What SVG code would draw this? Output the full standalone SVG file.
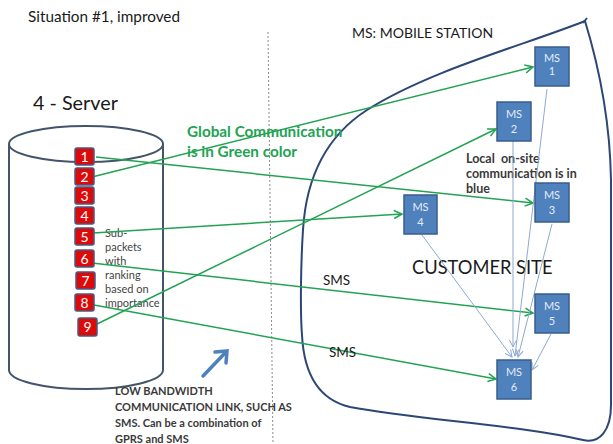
<svg xmlns="http://www.w3.org/2000/svg" width="613" height="444" viewBox="0 0 613 444">
<defs>
<style>
.t{font-family:Lato,"Liberation Sans",sans-serif;fill:#1a1a1a}
.g{font-family:Lato,"Liberation Sans",sans-serif;font-weight:bold;fill:#22a352;font-size:15.3px}
.b{font-family:Lato,"Liberation Sans",sans-serif;font-weight:bold;fill:#3a3a3a}
.sub{font-family:Lato,"Liberation Sans",sans-serif;fill:#444;font-size:11px}
.red rect{fill:#dd0a0a;stroke:#4a5a85;stroke-width:1.5}
.red text{font-family:Lato,"Liberation Sans",sans-serif;fill:#fff;font-size:14px;text-anchor:middle}
.ms rect{fill:#4f81bd;stroke:#385d8a;stroke-width:1.5}
.ms text{font-family:Lato,"Liberation Sans",sans-serif;fill:#e4ecf6;font-size:11px;text-anchor:middle}
.gl{stroke:#22a352;stroke-width:1.5;fill:none;marker-end:url(#ga)}
.bl{stroke:#8fa9cf;stroke-width:1;fill:none;marker-end:url(#ba)}
</style>
<marker id="ga" markerUnits="userSpaceOnUse" markerWidth="12" markerHeight="12" refX="9" refY="5" orient="auto"><path d="M1,1 L9,5 L1,9" fill="none" stroke="#22a352" stroke-width="1.5"/></marker>
<marker id="ba" markerUnits="userSpaceOnUse" markerWidth="10" markerHeight="10" refX="8" refY="4" orient="auto"><path d="M1,0.5 L8,4 L1,7.5" fill="none" stroke="#8fa9cf" stroke-width="1"/></marker>
</defs>
<rect width="613" height="444" fill="#fff"/>

<text class="t" x="28" y="22" font-size="15.3">Situation #1, improved</text>
<text class="t" x="33" y="110" font-size="19.8">4 - Server</text>

<!-- divider -->
<line x1="268" y1="32" x2="273" y2="444" stroke="#8a8a8a" stroke-width="1" stroke-dasharray="2,2"/>

<!-- server cylinder -->
<g id="server">
<ellipse cx="86" cy="144" rx="77" ry="18" fill="none" stroke="#44546a" stroke-width="2"/>
<path d="M9,144 L9,370 A77,19 0 0 0 163,370 L163,144" fill="none" stroke="#44546a" stroke-width="2"/>
</g>

<!-- customer site -->
<g id="customer-site">
<path d="M585,21 C525,45 430,70 367,110 C325,137 306,180 303,230 C301,260 300,310 302,335 C304,375 320,400 350,407 C420,420 520,425 583,440 C600,444 611,430 611,405 L611,180 C610,120 600,70 585,21 Z" fill="none" stroke="#2c4775" stroke-width="2"/>
<path d="M583,23 L587,18" stroke="#2c4775" stroke-width="2"/>
</g>

<text class="t" x="352" y="38" font-size="14">MS: MOBILE STATION</text>
<text class="t" x="412" y="274" font-size="18.3">CUSTOMER SITE</text>
<text class="g" x="187" y="137">Global Communication</text>
<text class="g" x="187" y="157">is in Green color</text>
<text class="b" font-size="12.5" xml:space="preserve"><tspan x="466" y="163">Local  on-site</tspan><tspan x="466" y="178">communication is in</tspan><tspan x="466" y="193">blue</tspan></text>
<text class="sub"><tspan x="105" y="237">Sub-</tspan><tspan x="105" y="251">packets</tspan><tspan x="105" y="265">with</tspan><tspan x="105" y="279">ranking</tspan><tspan x="105" y="293">based on</tspan><tspan x="105" y="307">importance</tspan></text>
<text class="b" font-size="11"><tspan x="115" y="395">LOW BANDWIDTH</tspan><tspan x="115" y="411">COMMUNICATION LINK, SUCH AS</tspan><tspan x="115" y="427">SMS. Can be a combination of</tspan><tspan x="115" y="443">GPRS and SMS</tspan></text>

<!-- low bandwidth arrow -->
<g id="lb-arrow" stroke="#4f81bd" stroke-width="3.5" fill="none" stroke-linecap="round">
<path d="M203,376 L226,352"/>
<path d="M215,352 L227,351 L226,363"/>
</g>

<!-- connectors -->
<g id="connectors">
<line class="gl" x1="96" y1="157" x2="533" y2="203"/>
<line class="gl" x1="88" y1="178" x2="533" y2="67"/>
<line class="gl" x1="93" y1="233" x2="402" y2="214"/>
<line class="gl" x1="83" y1="262" x2="533" y2="313"/>
<line class="gl" x1="97" y1="324" x2="496" y2="129"/>
<line class="gl" x1="94" y1="305" x2="496" y2="379"/>
<line class="bl" x1="547" y1="89" x2="515" y2="356"/>
<line class="bl" x1="513" y1="141" x2="513" y2="347"/>
<line class="bl" x1="552" y1="224" x2="518" y2="357"/>
<line class="bl" x1="422" y1="235" x2="512" y2="357"/>
<line class="bl" x1="551" y1="334" x2="532" y2="370"/>
</g>

<text class="t" x="323" y="285" font-size="13.5">SMS</text>
<text class="t" x="329" y="357" font-size="13.5">SMS</text>

<!-- packets -->
<g class="red">
<g id="p1"><rect x="75" y="148" width="19" height="17" rx="2"/><text x="84.5" y="161.5">1</text></g>
<g id="p2"><rect x="75" y="168" width="19" height="17" rx="2"/><text x="84.5" y="181.5">2</text></g>
<g id="p3"><rect x="75" y="187" width="19" height="17" rx="2"/><text x="84.5" y="200.5">3</text></g>
<g id="p4"><rect x="75" y="207" width="19" height="17" rx="2"/><text x="84.5" y="220.5">4</text></g>
<g id="p5"><rect x="75" y="228" width="19" height="17" rx="2"/><text x="84.5" y="241.5">5</text></g>
<g id="p6"><rect x="75" y="250" width="19" height="17" rx="2"/><text x="84.5" y="263.5">6</text></g>
<g id="p7"><rect x="76" y="272" width="19" height="17" rx="2"/><text x="85.5" y="285.5">7</text></g>
<g id="p8"><rect x="75" y="294" width="19" height="17" rx="2"/><text x="84.5" y="307.5">8</text></g>
<g id="p9"><rect x="78" y="318" width="19" height="18" rx="2"/><text x="87.5" y="332">9</text></g>
</g>

<!-- mobile stations -->
<g class="ms">
<g id="ms1"><rect x="535" y="47" width="34" height="39"/><text x="552" y="62" font-size="8.5">MS</text><text x="552" y="75" font-size="8.5">1</text></g>
<g id="ms2"><rect x="497" y="102" width="34" height="39"/><text x="514" y="118">MS</text><text x="514" y="133">2</text></g>
<g id="ms3"><rect x="535" y="183" width="34" height="39"/><text x="552" y="199">MS</text><text x="552" y="214">3</text></g>
<g id="ms4"><rect x="404" y="195" width="33" height="39"/><text x="420.5" y="211">MS</text><text x="420.5" y="226">4</text></g>
<g id="ms5"><rect x="535" y="294" width="34" height="39"/><text x="552" y="310">MS</text><text x="552" y="325">5</text></g>
<g id="ms6"><rect x="497" y="360" width="34" height="39"/><text x="514" y="376">MS</text><text x="514" y="391">6</text></g>
</g>
</svg>
